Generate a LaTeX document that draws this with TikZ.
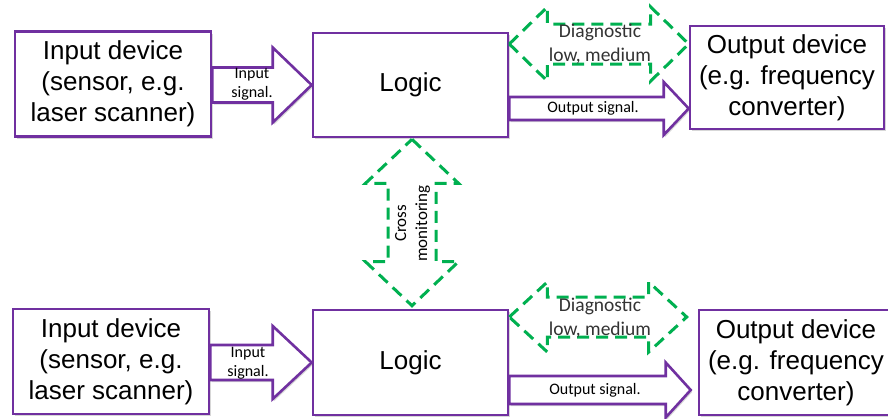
\documentclass[tikz,border=0pt]{standalone}
\usepackage{fontspec}
\setmainfont{Liberation Sans}
\newfontfamily\lblfont{Carlito}
\usetikzlibrary{calc,shadows}
\definecolor{boxpurple}{HTML}{7030A0}
\definecolor{diaggreen}{HTML}{00B050}
\tikzset{
  softshadow/.style={drop shadow={shadow xshift=1.5pt,shadow yshift=-2pt,opacity=.22,fill=black!70}},
  device/.style={draw=boxpurple, line width=2.6pt, fill=white, softshadow, inner sep=0pt,
    align=center, font=\fontsize{26}{31}\selectfont},
  sigarrow/.style={draw=boxpurple, line width=2.6pt, fill=white, softshadow},
  diagarrow/.style={draw=diaggreen, line width=3pt, dash pattern=on 12pt off 7pt, fill=white},
  sigtext/.style={font=\lblfont\fontsize{16}{19}\selectfont, align=center, inner sep=0pt},
  diagtext/.style={font=\lblfont\fontsize{19.5}{24}\selectfont, text=black!80, align=center, inner sep=0pt},
  crosstext/.style={font=\lblfont\fontsize{17}{21}\selectfont, align=center, inner sep=0pt, rotate=90},
}
% single block arrow: style, tail, tip, shaft half-width, head half-width, head length
\newcommand\sigblock[6]{%
  \path[#1] ($(#2 |- #3)+(0,-#4)$) -- ($(#3)+(-#6,-#4)$) -- ($(#3)+(-#6,-#5)$) -- (#3)
    -- ($(#3)+(-#6,#5)$) -- ($(#3)+(-#6,#4)$) -- ($(#2 |- #3)+(0,#4)$) -- cycle;}
% horizontal double block arrow: style, left tip, right tip, shaft half, head half, head length
\newcommand\dualhblock[6]{%
  \path[#1] (#2) -- ($(#2)+(#6,-#5)$) -- ($(#2)+(#6,-#4)$) -- ($(#3)+(-#6,-#4)$)
    -- ($(#3)+(-#6,-#5)$) -- (#3) -- ($(#3)+(-#6,#5)$) -- ($(#3)+(-#6,#4)$)
    -- ($(#2)+(#6,#4)$) -- ($(#2)+(#6,#5)$) -- cycle;}
% vertical double block arrow: style, top tip, bottom tip, shaft half, head half, head length
\newcommand\dualvblock[6]{%
  \path[#1] (#2) -- ($(#2)+(#5,#6)$) -- ($(#2)+(#4,#6)$) -- ($(#3)+(#4,-#6)$)
    -- ($(#3)+(#5,-#6)$) -- (#3) -- ($(#3)+(-#5,-#6)$) -- ($(#3)+(-#4,-#6)$)
    -- ($(#2)+(-#4,#6)$) -- ($(#2)+(-#5,#6)$) -- cycle;}

\begin{document}
\begin{tikzpicture}[x=1pt,y=-1pt]
\useasboundingbox (0,0) rectangle (888,418);
\fill[white] (0,0) rectangle (888,418);
\clip (0,0) rectangle (888,418);

% upper channel
\node[device, minimum width=196pt, minimum height=105pt] (in1) at (113,84)
  {Input device\\(sensor, e.g.\\laser scanner)};
\node[device, minimum width=195pt, minimum height=104pt] (lg1) at (410.5,85) {Logic};
\node[device, minimum width=194pt, minimum height=103pt] (out1) at (787,77.5)
  {Output device\\(e.g. frequency\\converter)};

% lower channel
\node[device, minimum width=196pt, minimum height=105pt] (in2) at (111,361.5)
  {Input device\\(sensor, e.g.\\laser scanner)};
\node[device, minimum width=195pt, minimum height=105pt] (lg2) at (410.5,362.5) {Logic};
\node[device, minimum width=194pt, minimum height=105pt] (out2) at (796,362.5)
  {Output device\\(e.g. frequency\\converter)};

% signal arrows
\coordinate (o1tip) at ($(out1.west)+(0,31)$);
\coordinate (o2tip) at ($(out2.west)+(-7,27.5)$);
\sigblock{sigarrow}{in1.east}{lg1.west}{17.5}{37.5}{39}
\sigblock{sigarrow}{lg1.east}{o1tip}{11.5}{26.5}{25}
\sigblock{sigarrow}{in2.east}{lg2.west}{17.5}{36.5}{39}
\sigblock{sigarrow}{lg2.east}{o2tip}{14}{27.5}{25}

% diagnostic arrows
\coordinate (d1L) at ($(lg1.east)+(0,-41)$);
\coordinate (d1R) at (d1L -| out1.west);
\coordinate (d2L) at ($(lg2.east)+(0,-45.5)$);
\coordinate (d2R) at ($(d2L -| out2.west)+(-11,0)$);
\dualhblock{diagarrow}{d1L}{d1R}{20}{37}{38}
\dualhblock{diagarrow}{d2L}{d2R}{20}{35}{38}

% cross monitoring between the two logic units
\coordinate (cmT) at ($(lg1.south)+(1.5,1)$);
\coordinate (cmB) at ($(lg2.north)+(1.5,-3)$);
\dualvblock{diagarrow}{cmT}{cmB}{24}{46.5}{44}

% labels
\node[sigtext] (is1) at (252,84) {Input\\signal.};
\node[sigtext] (os1) at (593,108.5) {Output signal.};
\node[sigtext] (is2) at (248,363) {Input\\signal.};
\node[sigtext] (os2) at (595,390) {Output signal.};
\node[diagtext] (dg1) at (600,44) {Diagnostic\\low, medium};
\node[diagtext] (dg2) at (600,317.5) {Diagnostic\\low, medium};
\node[crosstext] (cm) at (412.5,223.5) {Cross\\monitoring};
\end{tikzpicture}
\end{document}
